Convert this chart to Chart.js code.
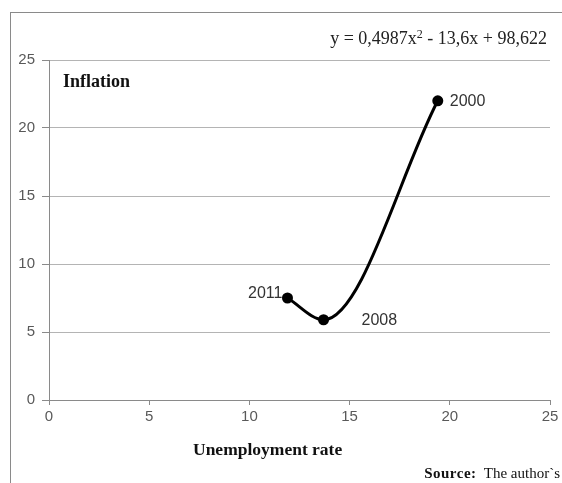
<!DOCTYPE html>
<html>
<head>
<meta charset="utf-8">
<script src="https://cdn.jsdelivr.net/npm/chart.js@4"></script>
<style>
  body { margin: 0; background: #fff; }
  #wrap { position: relative; width: 562px; height: 483px; overflow: hidden; }
  #frame { position: absolute; left: 10px; top: 12px; width: 600px; height: 500px;
           border-left: 1px solid #8a8a8a; border-top: 1px solid #8a8a8a; }
  canvas { position: absolute; left: 0; top: 0; }
  .txt { position: absolute; white-space: nowrap; font-family: "Liberation Serif", serif; color: #111; }
  #equation { right: 15px; top: 27px; font-size: 18px; line-height: 22px; color: #222; }
  #equation sup { font-size: 12px; vertical-align: 6px; line-height: 0; }
  #ylabel { left: 63px; top: 70px; font-size: 18px; line-height: 22px; font-weight: bold; }
  #xlabel { left: 193px; top: 438px; font-size: 17.5px; line-height: 22px; font-weight: bold; }
  #source { right: 2px; top: 463px; font-size: 15px; line-height: 20px; }
  #source b { letter-spacing: 0.5px; }
</style>
</head>
<body>
<div id="wrap">
  <div id="frame"></div>
  <canvas id="chart" width="562" height="483"></canvas>
  <div class="txt" id="equation">y = 0,4987x<sup>2</sup> - 13,6x + 98,622</div>
  <div class="txt" id="ylabel">Inflation</div>
  <div class="txt" id="xlabel">Unemployment rate</div>
  <div class="txt" id="source"><b>Source:</b>&nbsp; The author`s</div>
</div>
<script>
// values
const years = ["2011", "2008", "2000"];
const unemployment = [11.9, 13.7, 19.4];
const inflation = [7.5, 5.9, 22.0];
const xTicks = [0, 5, 10, 15, 20, 25];
const yTicks = [0, 5, 10, 15, 20, 25];

// where each year label sits relative to its point
const labelPlacement = {
    "2011": { dx: -5, dy: -4, align: "right" },
    "2008": { dx: 38, dy: 1, align: "left" },
    "2000": { dx: 12, dy: 1, align: "left" }
};

const yearLabels = {
    id: "yearLabels",
    afterDatasetsDraw(chart) {
        const ctx = chart.ctx;
        const meta = chart.getDatasetMeta(0);
        ctx.save();
        ctx.font = "16px 'Liberation Sans', Arial, sans-serif";
        ctx.fillStyle = "#333";
        ctx.textBaseline = "middle";
        meta.data.forEach((pt, i) => {
            const p = labelPlacement[years[i]];
            ctx.textAlign = p.align;
            ctx.fillText(years[i], pt.x + p.dx, pt.y + p.dy);
        });
        ctx.restore();
    }
};

const points = unemployment.map((u, i) => ({ x: u, y: inflation[i] }));

new Chart(document.getElementById("chart"), {
    type: "scatter",
    data: {
        datasets: [{
            data: points,
            showLine: true,
            cubicInterpolationMode: "monotone",
            borderColor: "#000",
            borderWidth: 3,
            backgroundColor: "#000",
            pointRadius: 5.5,
            pointBorderWidth: 0,
            pointHoverRadius: 5.5
        }]
    },
    options: {
        responsive: false,
        devicePixelRatio: 1,
        animation: false,
        layout: { padding: { top: 60, right: 12, left: 0, bottom: 0 } },
        plugins: {
            legend: { display: false },
            tooltip: { enabled: false }
        },
        scales: {
            x: {
                type: "linear",
                min: 0, max: 25,
                afterBuildTicks: s => { s.ticks = xTicks.map(v => ({ value: v })); },
                afterFit: s => { s.height = 83; },
                grid: { drawOnChartArea: false, tickLength: 5, tickColor: "#8a8a8a" },
                border: { color: "#8a8a8a" },
                ticks: {
                    padding: 3,
                    color: "#595959",
                    font: { family: "'Liberation Sans', Arial, sans-serif", size: 15 }
                }
            },
            y: {
                type: "linear",
                min: 0, max: 25,
                afterBuildTicks: s => { s.ticks = yTicks.map(v => ({ value: v })); },
                afterFit: s => { s.width = 49; },
                grid: { color: "#b4b4b4", tickLength: 7, tickColor: "#8a8a8a" },
                border: { color: "#8a8a8a" },
                ticks: {
                    padding: 7,
                    color: "#595959",
                    font: { family: "'Liberation Sans', Arial, sans-serif", size: 15 }
                }
            }
        }
    },
    plugins: [yearLabels]
});
</script>
</body>
</html>
